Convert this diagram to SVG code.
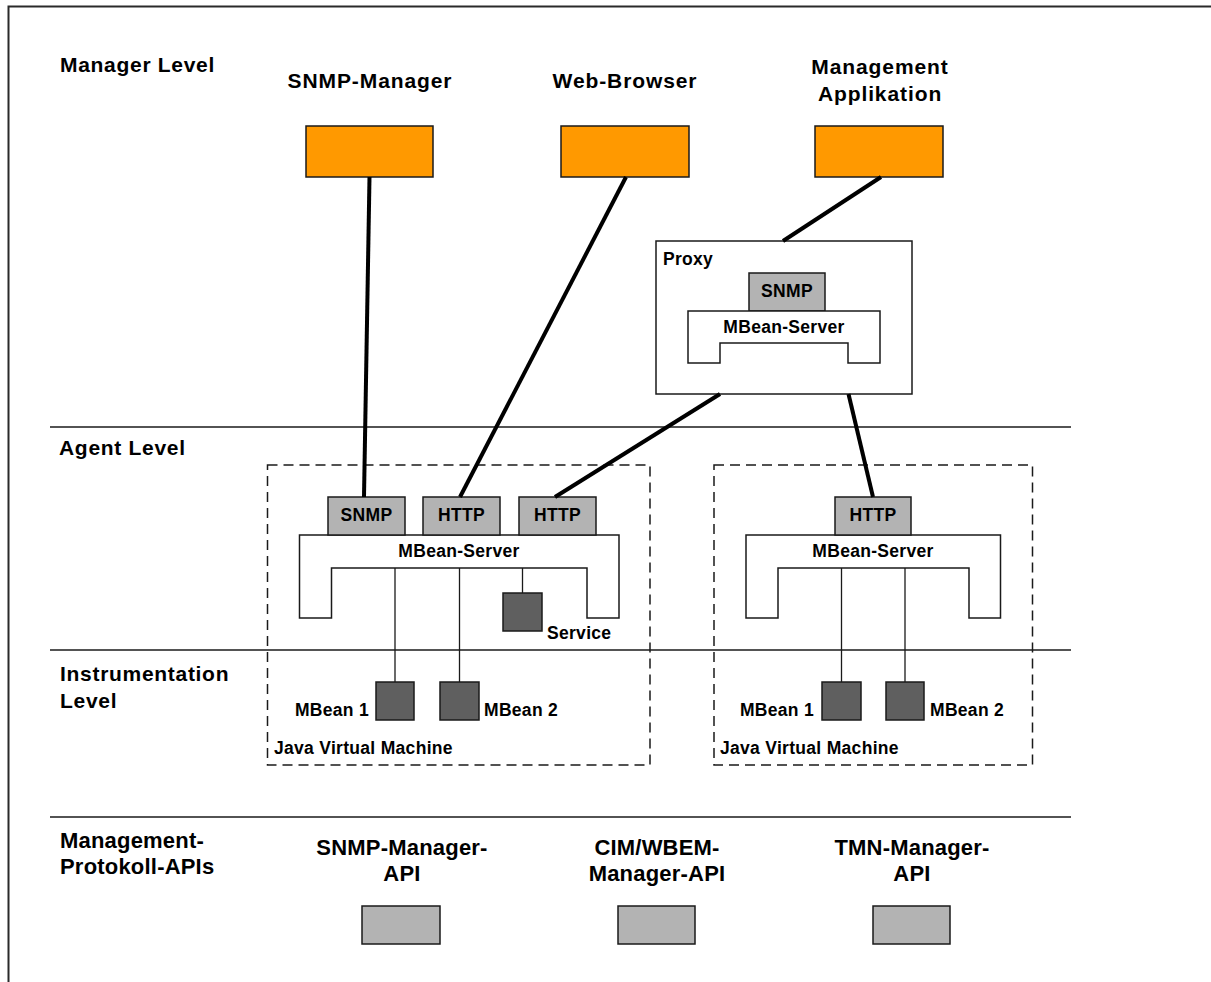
<svg xmlns="http://www.w3.org/2000/svg" width="1211" height="982" viewBox="0 0 1211 982">
  <style>
    .lvl { font-family: "Liberation Sans", Arial, sans-serif; font-weight: bold; font-size: 21px; letter-spacing: 0.7px; fill: #000; }
    .ttl { font-family: "Liberation Sans", Arial, sans-serif; font-weight: bold; font-size: 21px; letter-spacing: 0.9px; fill: #000; text-anchor: middle; }
    .api { font-family: "Liberation Sans", Arial, sans-serif; font-weight: bold; font-size: 22px; letter-spacing: 0.2px; fill: #000; }
    .sm { font-family: "Liberation Sans", Arial, sans-serif; font-weight: bold; font-size: 17.5px; letter-spacing: 0.3px; fill: #000; }
    .mid { text-anchor: middle; }
    .mgr { fill: #FF9900; stroke: #1a1a1a; stroke-width: 1.5; }
    .adp { fill: #B3B3B3; stroke: #1a1a1a; stroke-width: 1.5; }
    .bean { fill: #5F5F5F; stroke: #1a1a1a; stroke-width: 1.5; }
    .srv { fill: #FFFFFF; stroke: #1a1a1a; stroke-width: 1.5; }
    .jvm { fill: none; stroke: #1a1a1a; stroke-width: 1.5; stroke-dasharray: 10 6; }
    .sep { stroke: #1a1a1a; stroke-width: 1.5; }
    .link { stroke: #000; stroke-width: 4; fill: none; }
    .thin { stroke: #1a1a1a; stroke-width: 1.3; fill: none; }
  </style>

  <rect x="0" y="0" width="1211" height="982" fill="#FFFFFF"/>
  <!-- outer frame -->
  <rect x="8.5" y="6.5" width="1220" height="1000" fill="none" stroke="#2a2a2a" stroke-width="2"/>

  <!-- level separators -->
  <g id="separators">
    <line class="sep" x1="50" y1="427" x2="1071" y2="427"/>
    <line class="sep" x1="50" y1="650" x2="1071" y2="650"/>
    <line class="sep" x1="50" y1="817" x2="1071" y2="817"/>
  </g>

  <!-- level labels -->
  <g id="level-labels">
    <text class="lvl" x="60" y="72">Manager Level</text>
    <text class="lvl" x="59" y="455">Agent Level</text>
    <text class="lvl" x="60" y="681">Instrumentation</text>
    <text class="lvl" x="60" y="708">Level</text>
    <text class="api" x="60" y="848">Management-</text>
    <text class="api" x="60" y="874">Protokoll-APIs</text>
  </g>

  <!-- managers -->
  <g id="snmp-manager">
    <text class="ttl" x="370" y="88">SNMP-Manager</text>
    <rect class="mgr" x="306" y="126" width="127" height="51"/>
  </g>
  <g id="web-browser">
    <text class="ttl" x="625" y="88">Web-Browser</text>
    <rect class="mgr" x="561" y="126" width="128" height="51"/>
  </g>
  <g id="management-applikation">
    <text class="ttl" x="880" y="74">Management</text>
    <text class="ttl" x="880" y="101">Applikation</text>
    <rect class="mgr" x="815" y="126" width="128" height="51"/>
  </g>

  <!-- proxy -->
  <g id="proxy">
    <rect class="srv" x="656" y="241" width="256" height="153"/>
    <text class="sm" x="663" y="265">Proxy</text>
    <rect class="adp" x="749" y="273" width="76" height="38"/>
    <text class="sm mid" x="787" y="297">SNMP</text>
    <path class="srv" d="M688,311 H880 V363 H848 V343 H720 V363 H688 Z"/>
    <text class="sm mid" x="784" y="333">MBean-Server</text>
  </g>

  <!-- left JVM -->
  <g id="jvm-left">
    <rect class="jvm" x="267.5" y="465" width="382.5" height="300"/>
    <path class="srv" d="M299.5,535 H619 V618 H587 V568 H331.5 V618 H299.5 Z"/>
    <text class="sm mid" x="459" y="557">MBean-Server</text>
    <rect class="adp" x="328" y="497" width="77" height="38"/>
    <text class="sm mid" x="366.5" y="521">SNMP</text>
    <rect class="adp" x="423" y="497" width="77" height="38"/>
    <text class="sm mid" x="461.5" y="521">HTTP</text>
    <rect class="adp" x="519" y="497" width="77" height="38"/>
    <text class="sm mid" x="557.5" y="521">HTTP</text>
    <line class="thin" x1="395" y1="568" x2="395" y2="682"/>
    <line class="thin" x1="459.5" y1="568" x2="459.5" y2="682"/>
    <line class="thin" x1="522.5" y1="568" x2="522.5" y2="593"/>
    <rect class="bean" x="503" y="593" width="39" height="38"/>
    <text class="sm" x="547" y="639">Service</text>
    <rect class="bean" x="376" y="682" width="38" height="38"/>
    <text class="sm" x="369" y="716" text-anchor="end">MBean 1</text>
    <rect class="bean" x="440" y="682" width="39" height="38"/>
    <text class="sm" x="484" y="716">MBean 2</text>
    <text class="sm" x="274" y="754">Java Virtual Machine</text>
  </g>

  <!-- right JVM -->
  <g id="jvm-right">
    <rect class="jvm" x="714" y="465" width="318.5" height="300"/>
    <path class="srv" d="M746,535 H1000.5 V618 H969 V568 H778 V618 H746 Z"/>
    <text class="sm mid" x="873" y="557">MBean-Server</text>
    <rect class="adp" x="835" y="497" width="76" height="38"/>
    <text class="sm mid" x="873" y="521">HTTP</text>
    <line class="thin" x1="841.5" y1="568" x2="841.5" y2="682"/>
    <line class="thin" x1="905" y1="568" x2="905" y2="682"/>
    <rect class="bean" x="822" y="682" width="39" height="38"/>
    <text class="sm" x="814" y="716" text-anchor="end">MBean 1</text>
    <rect class="bean" x="886" y="682" width="38" height="38"/>
    <text class="sm" x="930" y="716">MBean 2</text>
    <text class="sm" x="720" y="754">Java Virtual Machine</text>
  </g>

  <!-- protocol APIs -->
  <g id="snmp-manager-api">
    <text class="api mid" x="402" y="855">SNMP-Manager-</text>
    <text class="api mid" x="402" y="881">API</text>
    <rect class="adp" x="362" y="906" width="78" height="38"/>
  </g>
  <g id="cim-wbem-manager-api">
    <text class="api mid" x="657" y="855">CIM/WBEM-</text>
    <text class="api mid" x="657" y="881">Manager-API</text>
    <rect class="adp" x="618" y="906" width="77" height="38"/>
  </g>
  <g id="tmn-manager-api">
    <text class="api mid" x="912" y="855">TMN-Manager-</text>
    <text class="api mid" x="912" y="881">API</text>
    <rect class="adp" x="873" y="906" width="77" height="38"/>
  </g>

  <!-- connections -->
  <g id="connectors">
    <line class="link" x1="369.5" y1="177" x2="364" y2="497"/>
    <line class="link" x1="626" y1="177" x2="460" y2="497"/>
    <line class="link" x1="881" y1="177" x2="783" y2="241"/>
    <line class="link" x1="720" y1="394" x2="555" y2="497"/>
    <line class="link" x1="848.5" y1="394" x2="873" y2="497"/>
  </g>
</svg>
